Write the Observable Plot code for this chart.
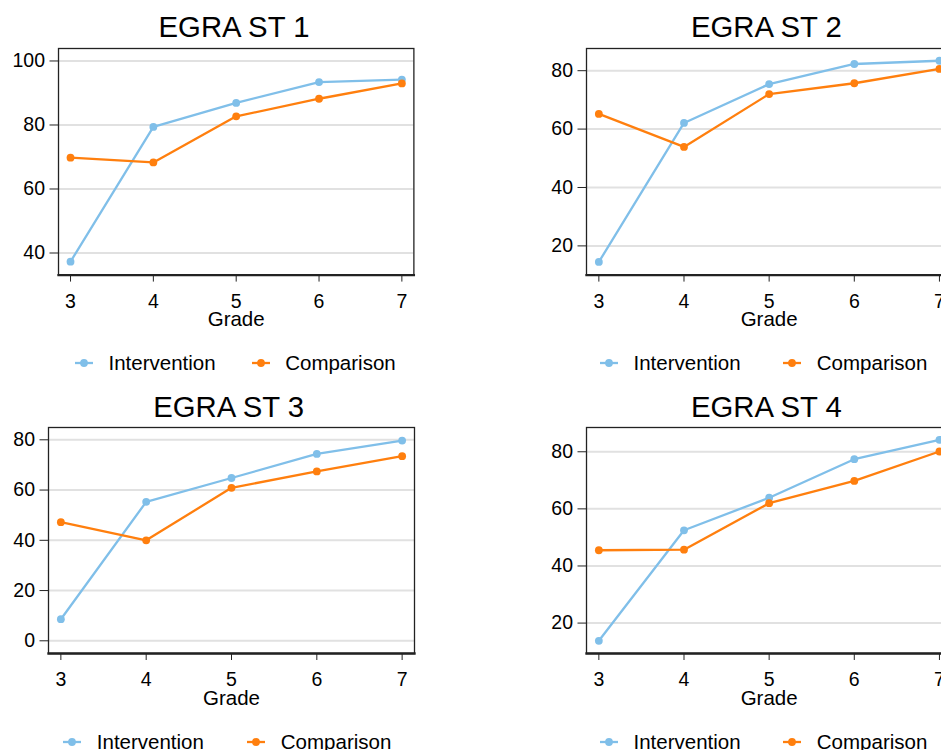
<!DOCTYPE html>
<html>
<head>
<meta charset="utf-8">
<script src="https://cdn.jsdelivr.net/npm/d3@7"></script>
<script src="https://cdn.jsdelivr.net/npm/@observablehq/plot@0.6"></script>
<style>
  body { margin: 0; background: #fff; }
  #chart {
    position: relative; width: 941px; height: 750px; overflow: hidden;
    font-family: "Liberation Sans", Arial, sans-serif; color: #000;
  }
  .title {
    position: absolute; font-size: 29.3px; line-height: 29.3px;
    white-space: nowrap; transform: translateX(-50%);
  }
  .legend-item {
    position: absolute; display: flex; align-items: center;
    font-size: 20.5px; line-height: 20px; white-space: nowrap;
  }
  .legend-item svg { margin-right: 15.5px; }
  .panel { position: absolute; }
</style>
</head>
<body>
<div id="chart"></div>
<script>
// Mean EGRA subtask scores by grade, intervention vs comparison schools
const grades = [3, 4, 5, 6, 7];
const groups = ["Intervention", "Comparison"];
const groupColors = ["#80bfe9", "#ff7f0e"];

const st1Intervention = [37.3, 79.4, 86.9, 93.4, 94.2];
const st1Comparison   = [69.8, 68.3, 82.7, 88.2, 93.0];
const st2Intervention = [14.5, 62.1, 75.4, 82.3, 83.4];
const st2Comparison   = [65.2, 53.9, 72.0, 75.7, 80.6];
const st3Intervention = [8.6, 55.3, 64.8, 74.4, 79.7];
const st3Comparison   = [47.2, 40.0, 60.9, 67.4, 73.5];
const st4Intervention = [13.8, 52.5, 63.9, 77.4, 84.2];
const st4Comparison   = [45.5, 45.7, 62.0, 69.8, 80.1];

const panelTitles = ["EGRA ST 1", "EGRA ST 2", "EGRA ST 3", "EGRA ST 4"];
const yTicks1 = [40, 60, 80, 100];
const yTicks2 = [20, 40, 60, 80];
const yTicks3 = [0, 20, 40, 60, 80];
const yTicks4 = [20, 40, 60, 80];

const series = [
  [st1Intervention, st1Comparison],
  [st2Intervention, st2Comparison],
  [st3Intervention, st3Comparison],
  [st4Intervention, st4Comparison]
];
const yTicks = [yTicks1, yTicks2, yTicks3, yTicks4];

// Page geometry of each panel's plotting frame
const layout = [
  {left: 58.3,  right: 413.7, top: 47.7,  bottom: 274.3, y: [33.1, 103.9], titleBase: 37.3,  legendMid: 363,   legendX: [75, 251.7]},
  {left: 585.7, right: 951,   top: 47.7,  bottom: 274.3, y: [10.0, 87.6],  titleBase: 37.3,  legendMid: 363,   legendX: [600, 783.3]},
  {left: 47.7,  right: 413.7, top: 426.7, bottom: 652.7, y: [-5.05, 84.9], titleBase: 416.7, legendMid: 742.3, legendX: [63.3, 247.3]},
  {left: 585.7, right: 951,   top: 426.7, bottom: 652.7, y: [9.35, 88.5],  titleBase: 416.7, legendMid: 742.3, legendX: [600, 783.3]}
];

const chart = document.getElementById("chart");
const font = '"Liberation Sans", Arial, sans-serif';

layout.forEach((L, i) => {
  const ML = 52, MR = 8, MT = 8, MB = 64;
  const fw = L.right - L.left, fh = L.bottom - L.top;
  const rows = [];
  groups.forEach((g, k) => {
    grades.forEach((grade, j) => rows.push({grade, group: g, score: series[i][k][j]}));
  });

  const plot = Plot.plot({
    width: fw + ML + MR,
    height: fh + MT + MB,
    marginLeft: ML, marginRight: MR, marginTop: MT, marginBottom: MB,
    style: {fontFamily: font, fontSize: "19.5px", color: "#000", background: "transparent", overflow: "visible"},
    x: {domain: [2.855, 7.145], label: null},
    y: {domain: L.y, label: null},
    color: {domain: groups, range: groupColors},
    marks: [
      Plot.gridY(yTicks[i], {stroke: "#e1e1e1", strokeOpacity: 1, strokeWidth: 2}),
      Plot.axisY(yTicks[i], {tickSize: 8.5, tickPadding: 5, stroke: "#222", fontSize: 19.5, label: null, tickFormat: d => String(d)}),
      Plot.axisX(grades, {tickSize: 7, tickPadding: 11.7, stroke: "#222", fontSize: 19.5, label: null, tickFormat: d => String(d)}),
      Plot.line(rows, {x: "grade", y: "score", z: "group", stroke: "group", strokeWidth: 2.3}),
      Plot.dot(rows, {x: "grade", y: "score", fill: "group", r: 3.9}),
      Plot.frame({stroke: "#222", strokeWidth: 1.3}),
      Plot.frame({anchor: "bottom", stroke: "#222", strokeWidth: 2.3}),
      Plot.text(["Grade"], {frameAnchor: "bottom", lineAnchor: "middle", dy: 44.7, fontSize: 20.5, fill: "#000"})
    ]
  });
  plot.classList.add("panel");
  plot.style.left = (L.left - ML) + "px";
  plot.style.top = (L.top - MT) + "px";
  chart.appendChild(plot);

  // Panel title
  const t = document.createElement("div");
  t.className = "title";
  t.textContent = panelTitles[i];
  t.style.left = ((L.left + L.right) / 2 - 2) + "px";
  t.style.top = (L.titleBase - 0.8465 * 29.3) + "px";
  chart.appendChild(t);

  // Legend under the panel
  groups.forEach((g, k) => {
    const item = document.createElement("div");
    item.className = "legend-item";
    item.style.left = L.legendX[k] + "px";
    item.style.top = (L.legendMid - 10) + "px";
    const ns = "http://www.w3.org/2000/svg";
    const sw = document.createElementNS(ns, "svg");
    sw.setAttribute("width", 18); sw.setAttribute("height", 10);
    const ln = document.createElementNS(ns, "line");
    ln.setAttribute("x1", 0); ln.setAttribute("x2", 18);
    ln.setAttribute("y1", 5); ln.setAttribute("y2", 5);
    ln.setAttribute("stroke", groupColors[k]); ln.setAttribute("stroke-width", 2.3);
    const c = document.createElementNS(ns, "circle");
    c.setAttribute("cx", 9); c.setAttribute("cy", 5); c.setAttribute("r", 3.9);
    c.setAttribute("fill", groupColors[k]);
    sw.appendChild(ln); sw.appendChild(c);
    item.appendChild(sw);
    const span = document.createElement("span");
    span.textContent = g;
    item.appendChild(span);
    chart.appendChild(item);
  });
});
</script>
</body>
</html>
